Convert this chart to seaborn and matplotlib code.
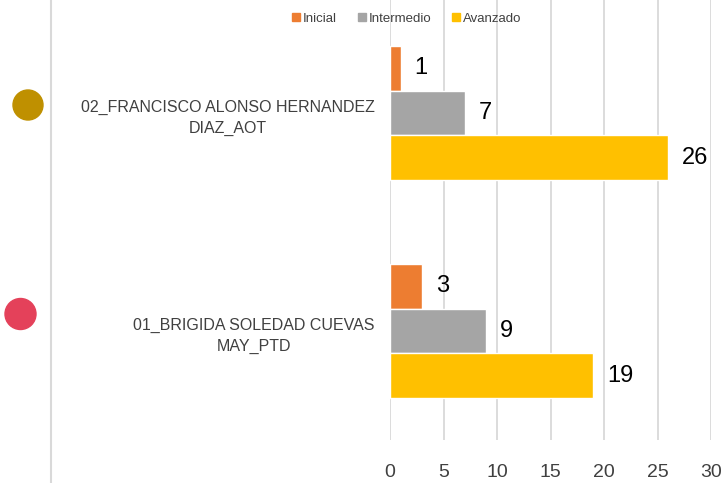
import matplotlib
matplotlib.use("Agg")
import matplotlib.pyplot as plt
from matplotlib import font_manager
from matplotlib.patches import Circle
from matplotlib.lines import Line2D
import pandas as pd
import seaborn as sns

# Chart data
docentes = ["02_FRANCISCO ALONSO HERNANDEZ\nDIAZ_AOT", "01_BRIGIDA SOLEDAD CUEVAS\nMAY_PTD"]
niveles = ["Inicial", "Intermedio", "Avanzado"]
inicial = [1, 3]
intermedio = [7, 9]
avanzado = [26, 19]
x_ticks = [0, 5, 10, 15, 20, 25, 30]

colores = ["#ED7D31", "#A5A5A5", "#FFC000"]
marcadores = ["#BF9000", "#E4415A"]

sns.set_theme(style="white")
names = {f.name for f in font_manager.fontManager.ttflist}
base = "Liberation Sans Narrow" if "Liberation Sans Narrow" in names else "Liberation Sans"
plt.rcParams["font.family"] = [base, "DejaVu Sans"]

df = pd.DataFrame({
    "docente": docentes * 3,
    "nivel": [n for n in niveles for _ in docentes],
    "valor": inicial + intermedio + avanzado,
})

W, H = 728, 483
fig = plt.figure(figsize=(W / 100, H / 100), dpi=100)
ax = fig.add_axes([390 / W, 1 - 440 / H, (711 - 390) / W, 440 / H])

sns.barplot(data=df, y="docente", x="valor", hue="nivel", order=docentes,
            hue_order=niveles, palette=colores, width=0.615, gap=0,
            orient="h", ax=ax, legend=False, saturation=1)

ax.set_xlim(0, 30)
ax.set_ylim(1.5, -0.518)
ax.set_xticks(x_ticks)
ax.grid(axis="x", color="#D9D9D9", linewidth=1.3)
ax.grid(axis="y", visible=False)
ax.set_axisbelow(True)
for s in ax.spines.values():
    s.set_visible(False)
ax.set_xlabel("")
ax.set_ylabel("")
ax.tick_params(axis="x", length=0, pad=17.5, labelsize=14, labelcolor="#404040")
ax.tick_params(axis="y", length=0, pad=11, labelsize=11.5, labelcolor="#404040")
for lbl in ax.get_yticklabels():
    lbl.set_multialignment("center")
    lbl.set_linespacing(1.5)

for cont in ax.containers:
    ax.bar_label(cont, padding=10, fontsize=17, color="black")

# Legend above the plot
handles = [Line2D([], [], marker="s", linestyle="", markersize=6,
                  markerfacecolor=c, markeredgecolor=c) for c in colores]
fig.legend(handles, niveles, loc="center", bbox_to_anchor=(406 / W, 1 - 19 / H),
           ncol=3, frameon=False, fontsize=9.5, handletextpad=0.1,
           columnspacing=1.5, labelcolor="#404040", handlelength=0.8)

# Left divider and group markers
fig.add_artist(Line2D([51 / W, 51 / W], [0, 1], color="#D9D9D9", linewidth=1.5,
                      transform=fig.transFigure))
fig.add_artist(Circle((0.28, (H - 105) / 100), 0.15, color=marcadores[0],
                      transform=fig.dpi_scale_trans))
fig.add_artist(Circle((0.205, (H - 314) / 100), 0.155, color=marcadores[1],
                      transform=fig.dpi_scale_trans))

fig.savefig("out.png", dpi=100)
